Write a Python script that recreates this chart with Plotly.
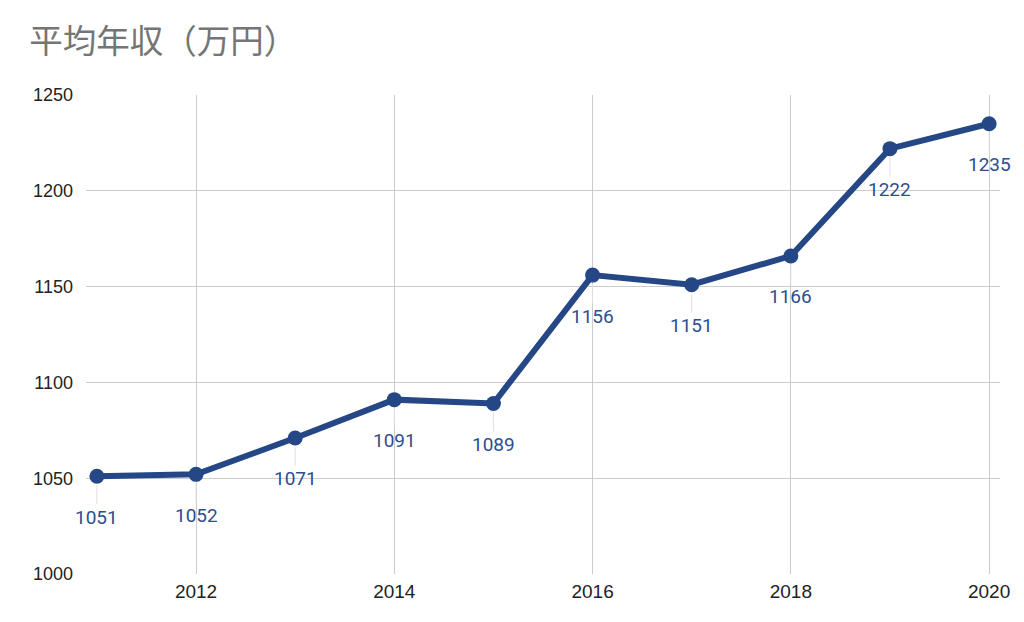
import plotly.graph_objects as go

years = [2011, 2012, 2013, 2014, 2015, 2016, 2017, 2018, 2019, 2020]
income = [1051, 1052, 1071, 1091, 1089, 1156, 1151, 1166, 1222, 1235]
x_ticks = [2012, 2014, 2016, 2018, 2020]
y_ticks = [1000, 1050, 1100, 1150, 1200, 1250]

line_color = "#264785"
label_color = "#2d4e8f"

fig = go.Figure()
fig.add_trace(go.Scatter(
    x=years, y=income, mode="lines+markers",
    line=dict(color=line_color, width=6),
    marker=dict(color=line_color, size=15),
    hoverinfo="x+y", showlegend=False,
))

for xv, yv in zip(years, income):
    fig.add_annotation(
        x=xv, y=yv, text=str(yv), showarrow=True,
        ax=0, ay=41, arrowhead=0, arrowwidth=1, arrowcolor="#e0e0e0",
        standoff=9, font=dict(family="Roboto", size=19, color=label_color),
    )

# page body has an 8px margin, so the figure is sized/offset to compensate
fig.update_layout(
    width=1016, height=614,
    margin=dict(l=78, r=24, t=87, b=48),
    paper_bgcolor="white", plot_bgcolor="white",
    title=dict(text="平均年収（万円）", x=0.021, xanchor="left", y=0.945, yanchor="middle",
               font=dict(family="Noto Sans CJK JP", size=33.5, color="#757575")),
    xaxis=dict(range=[2010.89, 2020.11], tickvals=x_ticks, ticktext=[str(t) for t in x_ticks],
               showgrid=True, gridcolor="#cccccc", gridwidth=1, zeroline=False,
               showline=False, ticks="", ticklabelstandoff=4,
               tickfont=dict(family="Liberation Sans", size=19, color="#222222")),
    yaxis=dict(range=[1000, 1250], tickvals=y_ticks, ticktext=[str(t) for t in y_ticks],
               showgrid=True, gridcolor="#cccccc", gridwidth=1, zeroline=False,
               showline=False, ticks="", ticklabelstandoff=12,
               tickfont=dict(family="Liberation Sans", size=18, color="#222222")),
)

fig.write_html("out.html")
